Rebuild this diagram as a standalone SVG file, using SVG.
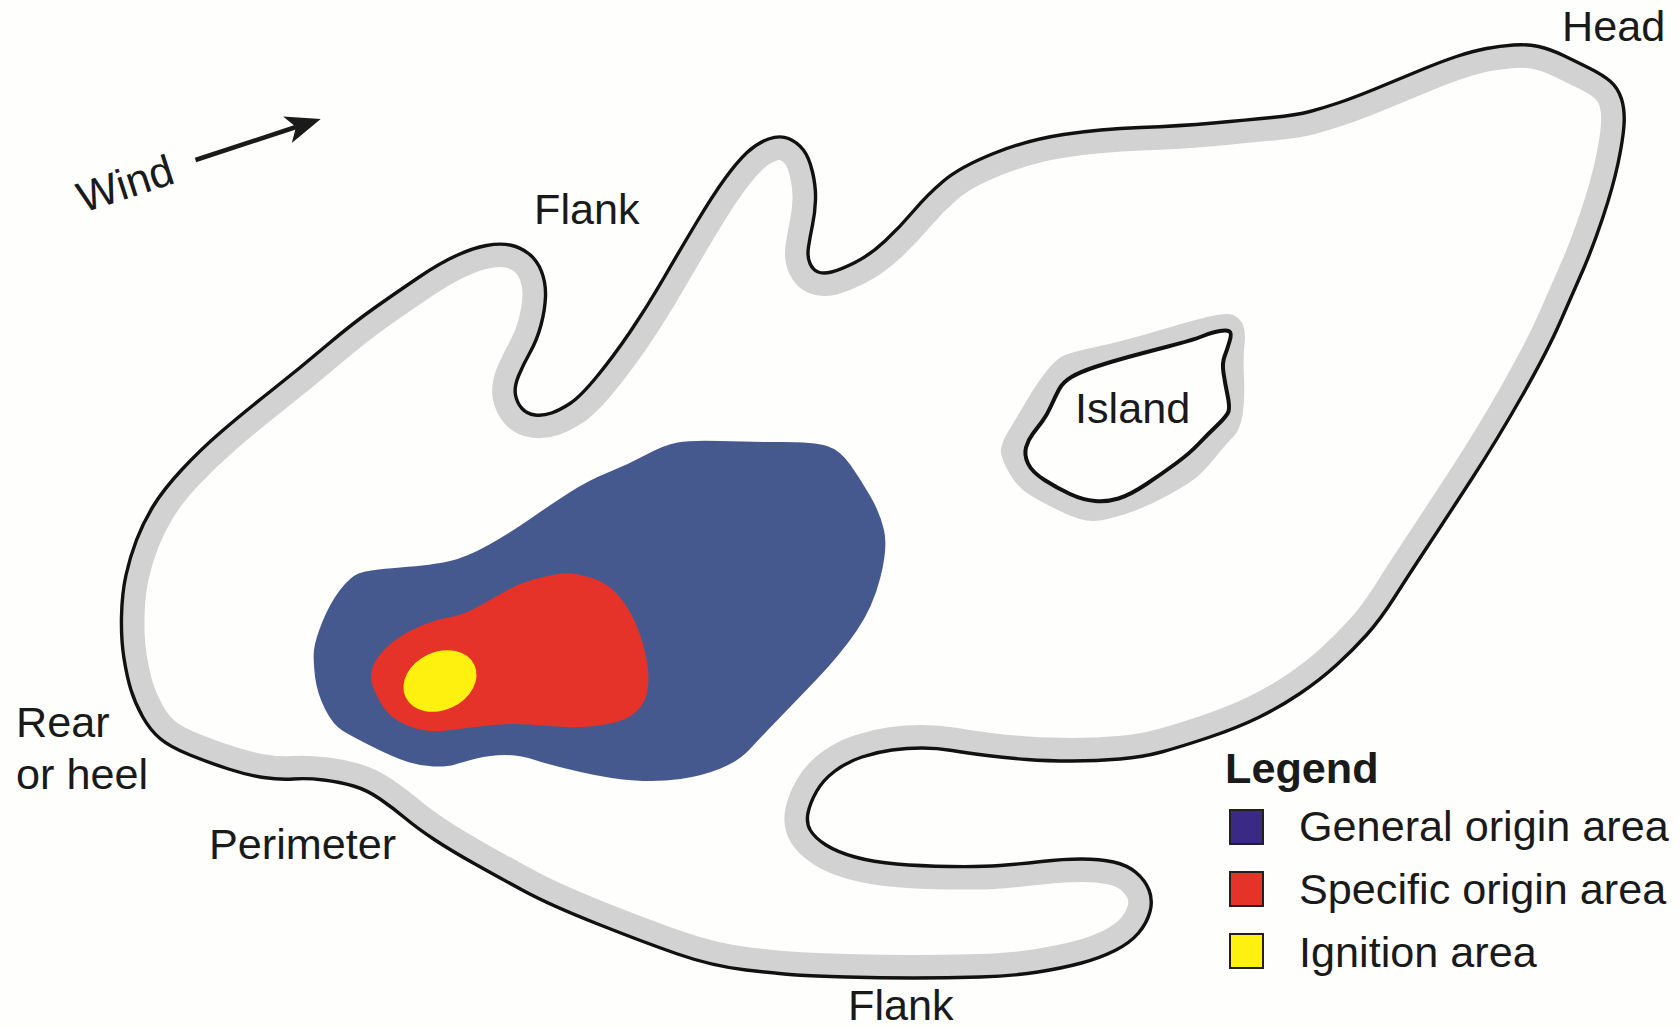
<svg xmlns="http://www.w3.org/2000/svg" xmlns:xlink="http://www.w3.org/1999/xlink" width="1680" height="1027" viewBox="0 0 1680 1027">
<style>
text{font-family:"Liberation Sans",Arial,sans-serif;font-size:43.2px;fill:#1a1a1a}
.sw{stroke:#231f20;stroke-width:2}
.band{fill:none;stroke:#d2d2d2;stroke-linejoin:round}
.line{fill:none;stroke:#111;stroke-width:3.4;stroke-linejoin:round}
</style>
<defs>
<path id="per" d="M124,658.5 Q121,640 121.5,616.5 Q122,593 126,575 Q130,557 136.5,540 Q143,523 153,506.5 Q163,490 181.5,470 Q200,450 221.5,431.5 Q243,413 271.5,390.5 Q300,368 326.5,345.5 Q353,323 376.5,306.5 Q400,290 420,276.5 Q440,263 456.5,255.5 Q473,248 486.5,245.5 Q500,243 510,245 Q520,247 528.5,253.5 Q537,260 541.5,271.5 Q546,283 545.5,296.5 Q545,310 541,325 Q537,340 530,352.5 Q523,365 518.5,376 Q514,387 515.5,395 Q517,403 522,408.5 Q527,414 535,415 Q543,416 551.5,413 Q560,410 570,403.5 Q580,397 596.5,377 Q613,357 630,332 Q647,307 663.5,278.5 Q680,250 696.5,222.5 Q713,195 725,178.5 Q737,162 747,152.5 Q757,143 768.5,139 Q780,135 788.5,138.5 Q797,142 803,149.5 Q809,157 812.5,172 Q816,187 815.5,200 Q815,213 812.5,225 Q810,237 808.5,247 Q807,257 810,263.5 Q813,270 818,272 Q823,274 831.5,272 Q840,270 855,262.5 Q870,255 885,241 Q900,227 913.5,211 Q927,195 943.5,181 Q960,167 993.5,153.5 Q1027,140 1063.5,134.5 Q1100,129 1140,127.5 Q1180,126 1213.5,123 Q1247,120 1272,117.5 Q1297,115 1310,111.5 Q1323,108 1338,103 Q1353,98 1375,89 Q1397,80 1418.5,71 Q1440,62 1456.5,56.5 Q1473,51 1486.5,48.5 Q1500,46 1513.5,45 Q1527,44 1538.5,46.5 Q1550,49 1563.5,55.5 Q1577,62 1590,68.5 Q1603,75 1610.5,81.5 Q1618,88 1621.5,99 Q1625,110 1624,125 Q1623,140 1618,163.5 Q1613,187 1603,217 Q1593,247 1583,270 Q1573,293 1560,322.5 Q1547,352 1522,396 Q1497,440 1472,478.5 Q1447,517 1428.5,545 Q1410,573 1395,596.5 Q1380,620 1366.5,635 Q1353,650 1336.5,665 Q1320,680 1300,693.5 Q1280,707 1258.5,717.5 Q1237,728 1208.5,737.5 Q1180,747 1161.5,752 Q1143,757 1120,759 Q1097,761 1072,761 Q1047,761 1027,759.5 Q1007,758 987,755.5 Q967,753 952,750.5 Q937,748 922,748 Q907,748 892,750 Q877,752 862,757 Q847,762 835,771 Q823,780 816.5,791.5 Q810,803 808,813 Q806,823 810.5,830.5 Q815,838 826,845 Q837,852 855,857 Q873,862 896.5,864 Q920,866 950,866.5 Q980,867 1000,865.5 Q1020,864 1041.5,861.5 Q1063,859 1081.5,859 Q1100,859 1113.5,862 Q1127,865 1136,872.5 Q1145,880 1149,890 Q1153,900 1150,911.5 Q1147,923 1138.5,933 Q1130,943 1115,950.5 Q1100,958 1081.5,963 Q1063,968 1038,972 Q1013,976 980,977 Q947,978 913.5,978 Q880,978 846.5,977 Q813,976 796.5,975 Q780,974 746,970 Q712,966 677.5,954 Q643,942 596.5,923.5 Q550,905 525,891.5 Q500,878 475,864 Q450,850 433.5,839 Q417,828 405,818 Q393,808 380,799 Q367,790 353.5,786 Q340,782 323.5,780 Q307,778 293.5,779 Q280,780 263.5,777.5 Q247,775 228.5,769 Q210,763 190,755 Q170,747 160,738.5 Q150,730 142.5,716.5 Q135,703 131,690 Q127,677 124,658.5 Z"/>
<clipPath id="inside"><use xlink:href="#per"/></clipPath>
<marker id="head" markerUnits="userSpaceOnUse" markerWidth="36" markerHeight="30" viewBox="0 0 36 30" refX="9" refY="15" orient="auto"><polygon points="0,1 35,15 0,29 9,15" fill="#1a1a1a"/></marker>
</defs>
<rect width="1680" height="1027" fill="#fefefd"/>
<g id="perimeter">
<use xlink:href="#per" class="band" stroke-width="46" clip-path="url(#inside)"/>
<use xlink:href="#per" class="line"/>
</g>
<g id="general-origin-area"><path fill="#46598f" d="M677.5,442.5 Q691,440 720.5,441 Q750,442 782,442 Q814,442 827,446 Q840,450 850.5,465 Q861,480 870.5,496.5 Q880,513 884,530 Q888,547 880.5,577 Q873,607 856.5,631 Q840,655 816.5,679.5 Q793,704 777,720.5 Q761,737 750,749 Q739,761 720.5,768.5 Q702,776 680.5,779 Q659,782 635,780.5 Q611,779 580.5,772 Q550,765 535,760 Q520,755 505,755 Q490,755 476.5,758.5 Q463,762 455,764.5 Q447,767 433.5,766.5 Q420,766 406.5,761.5 Q393,757 373,747 Q353,737 343,731 Q333,725 325,709 Q317,693 315,676.5 Q313,660 314,650 Q315,640 322.5,621.5 Q330,603 340,590 Q350,577 358.5,573.5 Q367,570 400,567.5 Q433,565 450,561 Q467,557 488.5,545 Q510,533 530,519 Q550,505 569.5,492.5 Q589,480 608,472.5 Q627,465 645.5,455 Q664,445 677.5,442.5 Z"/></g>
<g id="specific-origin-area"><path fill="#e5332a" d="M378.5,656.5 Q367,673 373,686.5 Q378,700 385.5,710 Q393,720 410,726.5 Q427,733 447,730.5 Q467,728 488.5,725.5 Q510,723 530,724.5 Q550,726 567,727 Q584,728 605.5,724.5 Q627,721 637,711 Q647,701 648,686 Q650,671 643.5,646 Q637,621 624,602.5 Q611,584 592,578 Q573,572 561.5,573.5 Q550,575 535,579 Q520,583 505,591.5 Q490,600 476.5,607.5 Q463,615 448,617.5 Q433,620 412,630 Q391,640 378.5,656.5 Z"/></g>
<g id="ignition-area"><ellipse cx="440" cy="681" rx="38" ry="29" transform="rotate(-25 440 681)" fill="#fff10f"/></g>
<g id="island">
<path fill="#d2d2d2" d="M1207,317 Q1227,312 1233.5,315 Q1240,318 1243,325 Q1246,332 1244.5,344.5 Q1243,357 1244,378.5 Q1245,400 1242.5,415 Q1240,430 1233.5,436.5 Q1227,443 1216,456.5 Q1205,470 1197.5,476.5 Q1190,483 1168.5,495 Q1147,507 1127,513.5 Q1107,520 1095,521 Q1083,522 1063,512.5 Q1043,503 1030,495 Q1017,487 1009.5,473.5 Q1002,460 1001,452.5 Q1000,445 1008.5,431 Q1017,417 1027,400 Q1037,383 1047,370.5 Q1057,358 1065,355 Q1073,352 1100,346 Q1127,340 1157,331 Q1187,322 1207,317 Z"/>
<path fill="#fefefd" stroke="#111" stroke-width="4" stroke-linejoin="round" d="M1229.5,341.5 Q1232,333 1229.5,331.5 Q1227,330 1220,331 Q1213,332 1203,336 Q1193,340 1168,346.5 Q1143,353 1126.5,357.5 Q1110,362 1095,367 Q1080,372 1071.5,377 Q1063,382 1059,389.5 Q1055,397 1051,406 Q1047,415 1042.5,421 Q1038,427 1033,433.5 Q1028,440 1026,447.5 Q1024,455 1028,463.5 Q1032,472 1044.5,480 Q1057,488 1070,494 Q1083,500 1095,501 Q1107,502 1118.5,498.5 Q1130,495 1146.5,484 Q1163,473 1176.5,463 Q1190,453 1198.5,444 Q1207,435 1217,425.5 Q1227,416 1228.5,411.5 Q1230,407 1227.5,395 Q1225,383 1223.5,373 Q1222,363 1224.5,356.5 Q1227,350 1229.5,341.5 Z"/>
<text x="1075" y="423">Island</text>
</g>
<g id="connectors"><path d="M195.5,160 L296,127" fill="none" stroke="#1a1a1a" stroke-width="4.5" marker-end="url(#head)"/></g>
<g id="labels">
<text transform="translate(83 213) rotate(-18)">Wind</text>
<text x="534" y="224">Flank</text>
<text x="1562" y="41">Head</text>
<text x="16" y="737">Rear</text>
<text x="16" y="789">or heel</text>
<text x="209" y="859">Perimeter</text>
<text x="848" y="1020">Flank</text>
</g>
<g id="legend">
<text x="1225" y="783" style="font-weight:bold">Legend</text>
<rect class="sw" x="1230" y="810" width="33" height="34" fill="#3a2a85"/>
<rect class="sw" x="1230" y="872" width="33" height="34" fill="#e5332a"/>
<rect class="sw" x="1230" y="934" width="33" height="34" fill="#fff10f"/>
<text x="1299" y="841">General origin area</text>
<text x="1299" y="904">Specific origin area</text>
<text x="1299" y="967">Ignition area</text>
</g>
</svg>
